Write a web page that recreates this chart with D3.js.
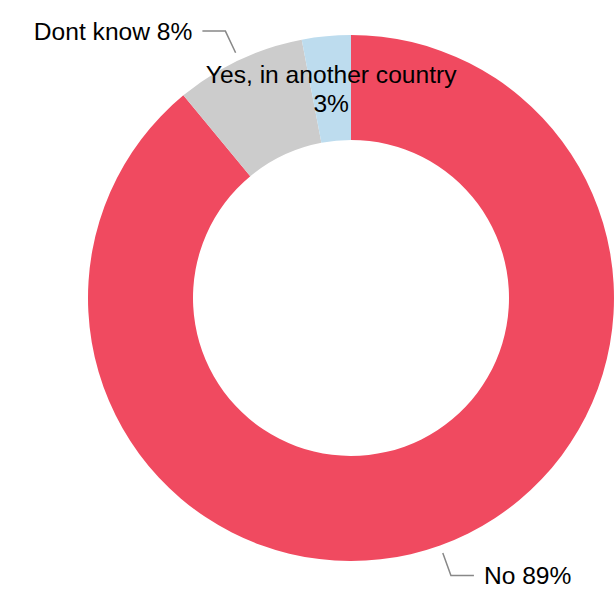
<!DOCTYPE html>
<html>
<head>
<meta charset="utf-8">
<script src="https://cdn.jsdelivr.net/npm/d3@7"></script>
<style>
    body { margin: 0; background: #fff; }
    text { font-family: Arial, "Liberation Sans", sans-serif; font-size: 24.6px; fill: #000; }
</style>
</head>
<body>
<div id="chart"></div>
<script>
// data
var labels = ["No", "Dont know", "Yes, in another country"];
var values = [89, 8, 3];
var colors = ["#F04A60", "#CCCCCC", "#BDDCEE"];

var width = 616,
    height = 592;
var cx = 351, cy = 298;
var outerR = 263, innerR = 158;

var svg = d3.select("#chart").append("svg")
    .attr("width", width)
    .attr("height", height);

var g = svg.append("g")
    .attr("transform", "translate(" + cx + "," + cy + ")");

var pie = d3.pie().sort(null).value(function (d) { return d.value; });
var arc = d3.arc().innerRadius(innerR).outerRadius(outerR);

var data = labels.map(function (l, i) {
    return { label: l, value: values[i], color: colors[i] };
});
var arcs = pie(data);

g.selectAll("path.slice")
    .data(arcs)
    .enter().append("path")
    .attr("class", "slice")
    .attr("d", arc)
    .attr("fill", function (d) { return d.data.color; });

function polar(r, a) {
    return [r * Math.sin(a), -r * Math.cos(a)];
}

arcs.forEach(function (d) {
    var mid = (d.startAngle + d.endAngle) / 2;
    var txt = d.data.label + " " + d.data.value + "%";
    if (d.data.label === "Yes, in another country") {
        // label sits on the slice centroid, two lines
        var c = arc.centroid(d);
        var t = g.append("text")
            .attr("text-anchor", "middle")
            .attr("x", c[0])
            .attr("y", c[1]);
        t.append("tspan").attr("x", c[0]).attr("dy", "-0.22em").text(d.data.label);
        t.append("tspan").attr("x", c[0]).attr("dy", "1.17em").text(d.data.value + "%");
        return;
    }
    // leader line + outside label
    var p1 = polar(outerR + 8, mid);
    var p2 = polar(outerR + 32, mid);
    var right = Math.sin(mid) > 0;
    var p3 = [p2[0] + (right ? 23 : -23), p2[1]];
    g.append("polyline")
        .attr("points", [p1, p2, p3].map(function (p) { return p.join(","); }).join(" "))
        .attr("fill", "none")
        .attr("stroke", "#888")
        .attr("stroke-width", 1.5);
    g.append("text")
        .attr("x", p3[0] + (right ? 10 : -10))
        .attr("y", p3[1])
        .attr("dy", "0.35em")
        .attr("text-anchor", right ? "start" : "end")
        .text(txt);
});
</script>
</body>
</html>
